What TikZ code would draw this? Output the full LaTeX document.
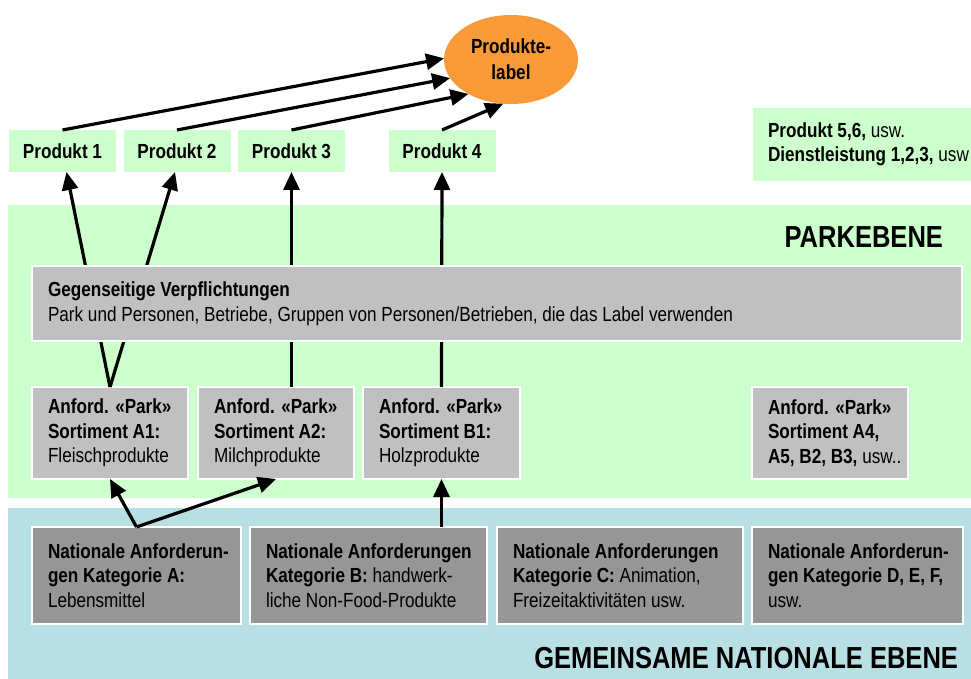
\documentclass[tikz,border=0pt]{standalone}
\usepackage{fontspec}
\setmainfont{Liberation Sans}[FakeStretch=0.84]
\usetikzlibrary{arrows.meta,shapes.geometric}
\definecolor{parkgreen}{HTML}{CCFFCC}
\definecolor{natblue}{HTML}{B8DFE4}
\definecolor{reqgray}{HTML}{C0C0C0}
\definecolor{natgray}{HTML}{969696}
\definecolor{labelorange}{HTML}{F99A38}
\begin{document}
\begin{tikzpicture}[x=1pt,y=-1pt,
  every node/.style={font=\fontsize{20.4}{24.5}\selectfont, inner sep=0pt, outer sep=0pt},
  band/.style={draw=none},
  prodbox/.style={fill=parkgreen, minimum width=107pt, minimum height=42pt, font=\fontsize{20.4}{24.5}\selectfont\bfseries},
  reqbox/.style={fill=reqgray, draw=white, line width=1.5pt, minimum height=92pt},
  natbox/.style={fill=natgray, draw=white, line width=1.5pt, minimum height=97pt},
  boxtext/.style={anchor=west, align=left},
  conn/.style={line width=3.2pt, -{Triangle[length=18pt,width=16pt]}},
  leveltitle/.style={font=\fontsize{30.4}{36}\selectfont\bfseries, anchor=base east}
]
\useasboundingbox (0,0) rectangle (971,679);

% bands
\node[band, fill=parkgreen, minimum width=963pt, minimum height=293pt] (parkband) at (489.5,351.5) {};
\node[band, fill=natblue, minimum width=963pt, minimum height=171pt] (natband) at (489.5,593.5) {};
\node[leveltitle] (parktitle) at (943,247) {PARKEBENE};
\node[leveltitle] (nattitle) at (958,668) {GEMEINSAME NATIONALE EBENE};

% products
\node[prodbox] (p1) at (62.5,151) {Produkt 1};
\node[prodbox] (p2) at (177,151) {Produkt 2};
\node[prodbox] (p3) at (291.5,151) {Produkt 3};
\node[prodbox] (p4) at (442,151) {Produkt 4};
\node[band, fill=parkgreen, minimum width=218pt, minimum height=73pt] (p56) at (862,144.5) {};
\node[boxtext] (p56t) at (768,144.5) {\textbf{Produkt 5,6,} usw.\\\textbf{Dienstleistung 1,2,3,} usw};

% label
\node[ellipse, fill=labelorange, minimum width=134pt, minimum height=89pt, align=center, font=\fontsize{20.4}{26}\selectfont\bfseries] (ell) at (511,59.5) {Produkte-\\label};

\draw[conn] (p1.north) -- (ell.179);
\draw[conn] (p2.north) -- (ell.197);
\draw[conn] (p3.north) -- (ell.219);
\draw[conn] (p4.north) -- (ell.260);

% park requirement boxes
\node[reqbox, minimum width=156pt] (a1) at (110,433) {};
\node[boxtext] (a1t) at (48,433) {\textbf{Anford. «Park»}\\\textbf{Sortiment A1:}\\Fleischprodukte};
\node[reqbox, minimum width=156pt] (a2) at (276,433) {};
\node[boxtext] (a2t) at (214,433) {\textbf{Anford. «Park»}\\\textbf{Sortiment A2:}\\Milchprodukte};
\node[reqbox, minimum width=157pt] (b1) at (441.5,433) {};
\node[boxtext] (b1t) at (379,433) {\textbf{Anford. «Park»}\\\textbf{Sortiment B1:}\\Holzprodukte};
\node[reqbox, minimum width=156pt] (a4) at (830,433) {};
\node[boxtext] (a4t) at (768,433) {\textbf{Anford. «Park»}\\\textbf{Sortiment A4,}\\\textbf{A5, B2, B3,} usw..};

% connectors behind the commitments box
\draw[conn] (a1.north) -- ([xshift=4pt]p1.south);
\draw[conn] (a1.north) -- ([xshift=-2pt]p2.south);
\draw[conn] (a2.north -| p3.south) -- (p3.south);
\draw[conn] (b1.north) -- (p4.south);

% commitments
\node[band, fill=reqgray, draw=white, line width=1.5pt, minimum width=930pt, minimum height=75pt] (gv) at (497,303.5) {};
\node[boxtext] (gvt) at (48,303.5) {\textbf{Gegenseitige Verpflichtungen}\\Park und Personen, Betriebe, Gruppen von Personen/Betrieben, die das Label verwenden};

% national boxes
\node[natbox, minimum width=209pt] (na) at (136.5,575.5) {};
\node[boxtext] (nat) at (48,575.5) {\textbf{Nationale Anforderun-}\\\textbf{gen Kategorie A:}\\Lebensmittel};
\node[natbox, minimum width=237pt] (nb) at (368.5,575.5) {};
\node[boxtext] (nbt) at (266,575.5) {\textbf{Nationale Anforderungen}\\\textbf{Kategorie B:} handwerk-\\liche Non-Food-Produkte};
\node[natbox, minimum width=246pt] (nc) at (620,575.5) {};
\node[boxtext] (nct) at (513,575.5) {\textbf{Nationale Anforderungen}\\\textbf{Kategorie C:} Animation,\\Freizeitaktivitäten usw.};
\node[natbox, minimum width=211pt] (nd) at (857.5,575.5) {};
\node[boxtext] (ndt) at (768,575.5) {\textbf{Nationale Anforderun-}\\\textbf{gen Kategorie D, E, F,}\\usw.};

\draw[conn] (na.north) -- (a1.south);
\draw[conn] (na.north) -- (a2.south);
\draw[conn] (nb.north -| b1.south) -- (b1.south);
\end{tikzpicture}
\end{document}
